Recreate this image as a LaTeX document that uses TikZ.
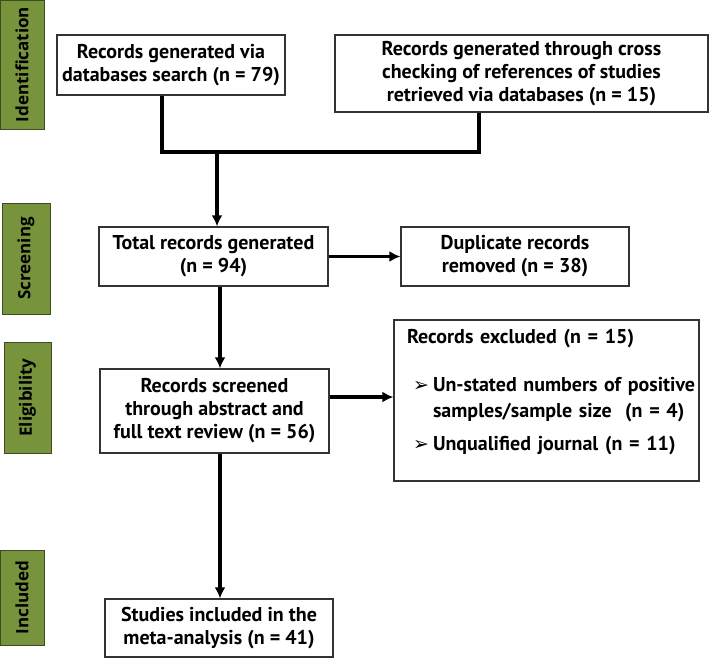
\documentclass[tikz,border=0pt]{standalone}
\usepackage{fontspec}
\setmainfont{PT Sans}
\newfontfamily\stagefont{Open Sans}
\newfontfamily\dingfont{DejaVu Sans}
\usetikzlibrary{arrows.meta}
\definecolor{stagegreen}{HTML}{77933C}
\definecolor{stageedge}{HTML}{3E4D1E}
\definecolor{boxedge}{HTML}{333333}
\newcommand\exclbullet{\makebox[20pt][l]{\dingfont\fontsize{19}{23}\selectfont ➢}}
\begin{document}
\begin{tikzpicture}[x=1pt,y=-1pt,
    box/.style={draw=boxedge,line width=1.3pt,fill=white,inner sep=0pt,align=center,
      font=\bfseries\fontsize{20}{23}\selectfont},
    stage/.style={draw=stageedge,line width=1pt,fill=stagegreen,inner sep=0pt,rotate=90,
      font=\stagefont\bfseries\fontsize{17}{18}\selectfont},
    flow/.style={line width=3.3pt,-{Latex[length=11pt,width=11pt]}}]
  \useasboundingbox (0,0) rectangle (709,659);
  \draw
    (22,64.5) node[stage,minimum width=129pt,minimum height=44pt] (ident){Identification}
    (26,258.5) node[stage,minimum width=111pt,minimum height=48pt] (screen){Screening}
    (27.5,397.5) node[stage,minimum width=111pt,minimum height=47pt] (elig){Eligibility}
    (22,597.5) node[stage,minimum width=95pt,minimum height=44pt] (incl){Included};
  \draw
    (171,65) node[box,minimum width=228pt,minimum height=60pt] (search){Records generated via\\databases search (n = 79)}
    (521.5,73.5) node[box,minimum width=373pt,minimum height=77pt] (cross){Records generated through cross\\checking of references of studies\\retrieved via databases (n = 15)}
    (213.5,256.5) node[box,minimum width=229pt,minimum height=59pt] (total){Total records generated\\(n = 94)}
    (515,256.5) node[box,minimum width=228pt,minimum height=59pt] (dup){Duplicate records\\removed (n = 38)}
    (214.5,411) node[box,minimum width=229pt,minimum height=84pt] (screened){Records screened\\through abstract and\\full text review (n = 56)}
    (546.5,400.5) node[box,minimum width=305pt,minimum height=161pt,align=left,text width=300pt] (excl){%
      \hspace*{10.5pt}Records excluded (n = 15)\\[25pt]
      \hspace*{16.5pt}\exclbullet Un-stated numbers of positive\\[3pt]
      \hspace*{36.5pt}samples/sample size\ \ (n = 4)\\[10pt]
      \hspace*{16.5pt}\exclbullet Unqualified journal (n = 11)\rule[-21pt]{0pt}{1pt}}
    (219,628) node[box,minimum width=228pt,minimum height=58pt] (meta){Studies included in the\\meta-analysis (n = 41)};
  \coordinate (mergeL) at (162,152);
  \coordinate (mergeR) at (479,152);
  \coordinate (merge) at (217,152);
  \begin{scope}[line width=3.3pt]
    \draw (search.south -| mergeL) -- (mergeL) -- (mergeR) -- (cross.south -| mergeR);
  \end{scope}
  \draw[flow] (merge) -- (merge |- total.north);
  \draw[flow] (total.east) -- (dup.west);
  \draw[flow] ([xshift=6.5pt]total.south) -- ([xshift=6.5pt]total.south |- screened.north);
  \draw[flow] ([yshift=14pt]screened.east) -- ([yshift=14pt]screened.east -| excl.west);
  \draw[flow] ([xshift=5.5pt]screened.south) -- ([xshift=5.5pt]screened.south |- meta.north);
\end{tikzpicture}
\end{document}
